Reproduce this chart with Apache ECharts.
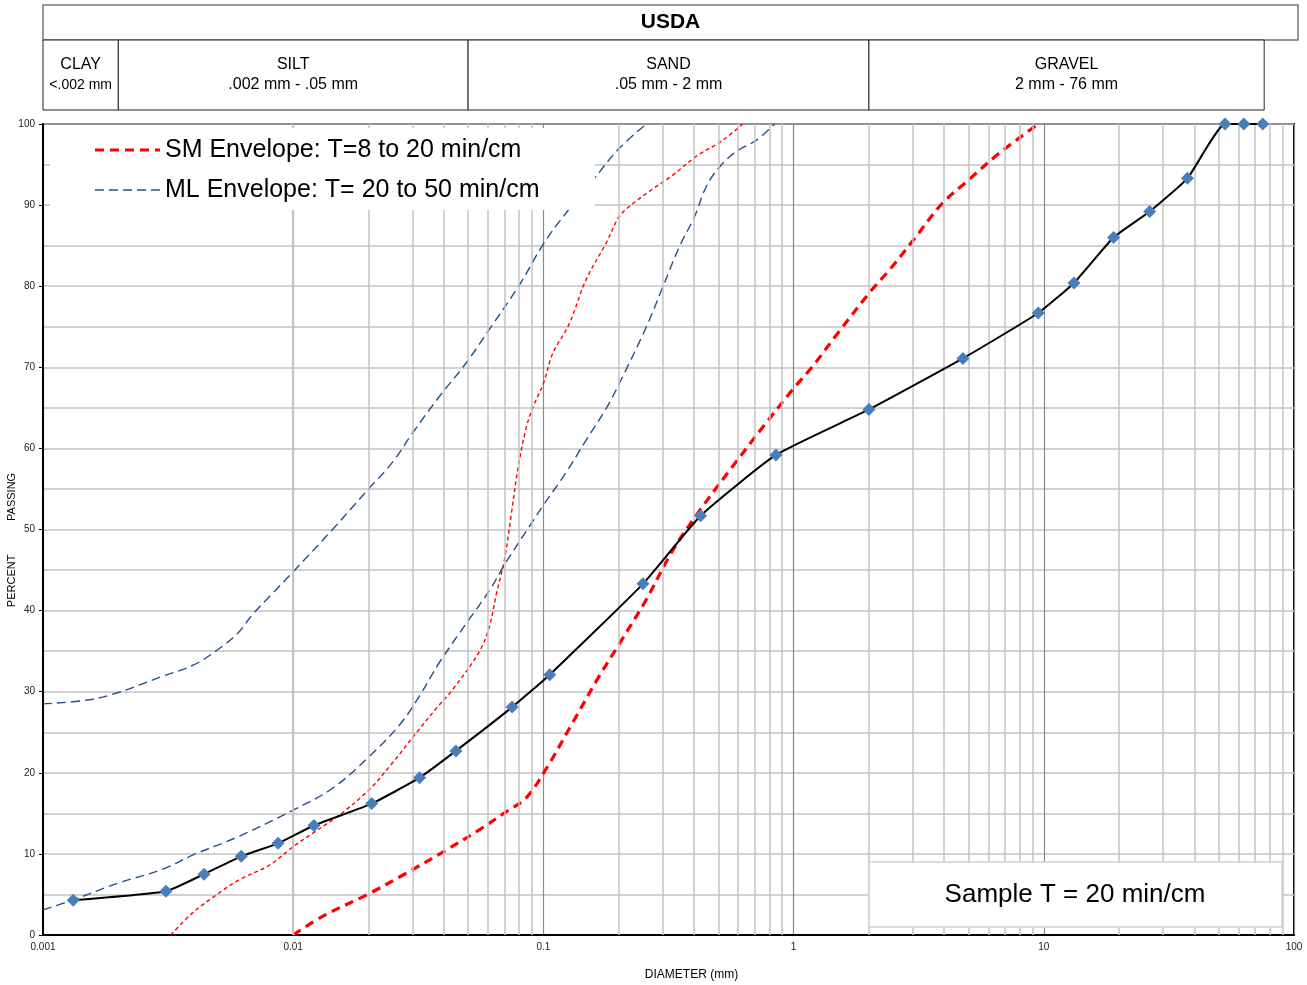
<!DOCTYPE html>
<html>
<head>
<meta charset="utf-8">
<title>USDA gradation</title>
<script src="https://cdn.jsdelivr.net/npm/echarts@6/dist/echarts.min.js"></script>
<style>
html,body{margin:0;padding:0;background:#fff;}
#main{width:1307px;height:985px;}
</style>
</head>
<body>
<div id="main"></div>
<script>
// sample gradation: diameter (mm) / percent passing
var sampleDiameter = [0.00132, 0.0031, 0.0044, 0.0062, 0.0087, 0.0121, 0.0206, 0.032, 0.0447, 0.075, 0.106, 0.25, 0.425, 0.85, 2.0, 4.75, 9.5, 13.2, 19.0, 26.5, 37.5, 53, 63, 75];
var samplePassing  = [4.3, 5.4, 7.5, 9.7, 11.3, 13.5, 16.2, 19.4, 22.7, 28.1, 32.1, 43.3, 51.7, 59.2, 64.8, 71.1, 76.7, 80.4, 86.0, 89.2, 93.3, 100, 100, 100];

// SM envelope, coarse side (thick red dash)
var smLowDiameter = [0.01, 0.0131, 0.0201, 0.0275, 0.0395, 0.055, 0.071, 0.0853, 0.1026, 0.131, 0.167, 0.201, 0.256, 0.327, 0.418, 0.568, 0.77, 1.0, 1.19, 1.51, 2.01, 2.43, 3.03, 3.9, 4.96, 6.7, 9.5];
var smLowPassing  = [0, 2.3, 5.1, 7.4, 10.2, 12.9, 15.2, 16.9, 20.5, 26.2, 31.9, 35.9, 41.2, 47.3, 52.2, 57.7, 63.0, 67.4, 70.1, 74.3, 79.2, 82.1, 85.8, 90.1, 93.0, 96.5, 100];

// SM envelope, fine side (thin red dots)
var smUpDiameter = [0.00324, 0.00395, 0.00491, 0.00608, 0.00802, 0.01, 0.0119, 0.0153, 0.0201, 0.0249, 0.031, 0.0384, 0.0435, 0.0556, 0.0609, 0.0648, 0.07, 0.0743, 0.079, 0.0853, 0.0906, 0.1, 0.109, 0.127, 0.148, 0.178, 0.201, 0.224, 0.265, 0.329, 0.408, 0.521, 0.627];
var smUpPassing  = [0, 2.7, 4.9, 6.8, 8.6, 10.9, 12.5, 14.8, 17.9, 21.2, 24.9, 28.4, 30.3, 35.0, 38.1, 42.0, 46.4, 51.7, 57.4, 62.5, 65.0, 68.0, 71.7, 75.4, 80.8, 85.3, 88.6, 90.0, 91.7, 93.7, 96.0, 98.0, 100];

// ML envelope, fine side
var mlUpDiameter = [0.001, 0.00153, 0.002, 0.00242, 0.003, 0.004, 0.005, 0.006, 0.00687, 0.00826, 0.01, 0.01436, 0.02, 0.0251, 0.03, 0.0384, 0.049, 0.0612, 0.0807, 0.1, 0.123, 0.158, 0.201, 0.258];
var mlUpPassing  = [28.5, 29.0, 29.9, 30.8, 31.9, 33.3, 35.2, 37.2, 39.5, 42.1, 44.8, 50.0, 55.0, 58.4, 61.9, 66.4, 70.5, 74.8, 80.3, 85.2, 89.0, 93.1, 97.0, 100];

// ML envelope, coarse side
var mlLowDiameter = [0.001, 0.00131, 0.002, 0.003, 0.004, 0.006, 0.01, 0.01436, 0.0201, 0.0266, 0.032, 0.0384, 0.0507, 0.0609, 0.071, 0.088, 0.1, 0.123, 0.148, 0.178, 0.201, 0.258, 0.3, 0.35, 0.402, 0.448, 0.506, 0.59, 0.71, 0.84];
var mlLowPassing  = [3.1, 4.3, 6.4, 8.1, 9.9, 12.1, 15.4, 18.1, 22.0, 25.9, 29.5, 33.6, 39.0, 42.5, 46.0, 50.4, 53.0, 57.0, 61.0, 64.9, 68.0, 75.0, 79.9, 84.9, 88.6, 92.3, 94.7, 96.6, 98.0, 100];

var xTickLabels = ['0.001', '0.01', '0.1', '1', '10', '100'];
var soilClassNames  = ['CLAY', 'SILT', 'SAND', 'GRAVEL'];
var soilClassRanges = ['<.002 mm', '.002 mm - .05 mm', '.05 mm - 2 mm', '2 mm - 76 mm'];
var soilClassBounds = [0.001, 0.002, 0.05, 2, 76];

var SM_NAME = 'SM Envelope: T=8 to 20 min/cm';
var ML_NAME = 'ML Envelope: T= 20 to 50 min/cm';
var FONT = 'Liberation Sans, Arial, sans-serif';
var SM_COLOR = '#ff0000', ML_COLOR = '#24508a';

function pairs(xs, ys){
	var out = [];
	for(var i = 0; i < xs.length; i++){
		out.push([xs[i], ys[i]]);
	}
	return out;
}

// log minor gridlines 2..9 of each decade
var minorGrid = [];
for(var d = 0.001; d < 50; d *= 10){
	for(var k = 2; k <= 9; k++){
		minorGrid.push({xAxis: +(k * d).toPrecision(3)});
	}
}

var chart = echarts.init(document.getElementById('main'));

var option = {
	animation: false,
	backgroundColor: '#fff',
	textStyle: {fontFamily: FONT},
	grid: {
		left: 43, right: 13, top: 124, bottom: 50,
		containLabel: false, outerBoundsMode: 'none',
		show: true, borderColor: '#000', borderWidth: 2
	},
	xAxis: {
		type: 'log', logBase: 10, min: 0.001, max: 100,
		name: 'DIAMETER (mm)', nameLocation: 'middle', nameGap: 34,
		nameTextStyle: {fontSize: 12, color: '#000', padding: [0, 0, 0, 46]},
		axisLine: {lineStyle: {color: '#000', width: 2}},
		axisTick: {show: false},
		axisLabel: {
			fontSize: 10, color: '#222', margin: 7,
			formatter: function(v){
				var i = Math.round(Math.log(v) / Math.LN10) + 3;
				return xTickLabels[i] || '';
			}
		},
		splitLine: {show: true, lineStyle: {color: '#8a8a8a', width: 1.2}}
	},
	yAxis: {
		type: 'value', min: 0, max: 100, interval: 10,
		axisLine: {show: true, lineStyle: {color: '#000', width: 2}},
		axisTick: {show: true, length: 4, lineStyle: {color: '#000'}},
		axisLabel: {fontSize: 10, color: '#222', margin: 8},
		splitLine: {lineStyle: {color: '#c3c3c3', width: 1.5}},
		minorTick: {show: false, splitNumber: 2},
		minorSplitLine: {show: true, lineStyle: {color: '#c3c3c3', width: 1.5}}
	},
	series: [
		{
			// minor gridlines
			type: 'line', data: [], z: 1, silent: true,
			markLine: {
				silent: true, symbol: ['none', 'none'], animation: false,
				label: {show: false},
				lineStyle: {color: '#c3c3c3', width: 1.5, type: 'solid'},
				data: minorGrid
			}
		},
		{
			name: SM_NAME, type: 'line', z: 3,
			data: pairs(smLowDiameter, smLowPassing),
			symbol: 'none', smooth: 0.35,
			lineStyle: {color: SM_COLOR, width: 3.2, type: [9, 6]}
		},
		{
			name: SM_NAME, type: 'line', z: 3,
			data: pairs(smUpDiameter, smUpPassing),
			symbol: 'none', smooth: 0.35,
			lineStyle: {color: SM_COLOR, width: 1.4, type: [4, 3]}
		},
		{
			name: ML_NAME, type: 'line', z: 3,
			data: pairs(mlUpDiameter, mlUpPassing),
			symbol: 'none', smooth: 0.4,
			lineStyle: {color: ML_COLOR, width: 1.4, type: [9, 5]}
		},
		{
			name: ML_NAME, type: 'line', z: 3,
			data: pairs(mlLowDiameter, mlLowPassing),
			symbol: 'none', smooth: 0.4,
			lineStyle: {color: ML_COLOR, width: 1.4, type: [9, 5]}
		},
		{
			name: 'Sample', type: 'line', z: 5,
			data: pairs(sampleDiameter, samplePassing),
			symbol: 'diamond', symbolSize: 13, smooth: 0.15,
			lineStyle: {color: '#000', width: 2},
			itemStyle: {color: '#4a7ebb'}
		}
	]
};
chart.setOption(option);

// 表头、图例、注释
function drawExtras(){
	var g = [];
	var xl = chart.convertToPixel({xAxisIndex: 0}, 0.001);
	var xr = chart.convertToPixel({xAxisIndex: 0}, 100) + 4;
	g.push({type: 'rect', shape: {x: xl, y: 5, width: xr - xl, height: 35},
		style: {fill: '#fff', stroke: '#777', lineWidth: 1.5}});
	g.push({type: 'text', x: (xl + xr) / 2, y: 22,
		style: {text: 'USDA', fontSize: 21, fontWeight: 'bold', fontFamily: FONT, fill: '#000', align: 'center', verticalAlign: 'middle'}});
	for(var i = 0; i < soilClassNames.length; i++){
		var a = chart.convertToPixel({xAxisIndex: 0}, soilClassBounds[i]);
		var b = chart.convertToPixel({xAxisIndex: 0}, soilClassBounds[i + 1]);
		g.push({type: 'rect', shape: {x: a, y: 40, width: b - a, height: 70},
			style: {fill: '#fff', stroke: '#222', lineWidth: 1}});
		g.push({type: 'text', x: (a + b) / 2, y: 65,
			style: {text: soilClassNames[i], fontSize: 16, fontFamily: FONT, fill: '#000', align: 'center', verticalAlign: 'middle'}});
		g.push({type: 'text', x: (a + b) / 2, y: 85,
			style: {text: soilClassRanges[i], fontSize: i == 0 ? 14 : 16, fontFamily: FONT, fill: '#000', align: 'center', verticalAlign: 'middle'}});
	}
	// 图例 (white box over the plot)
	g.push({type: 'rect', z: 50, shape: {x: 50, y: 128, width: 545, height: 82},
		style: {fill: '#fff'}});
	g.push({type: 'line', z: 51, shape: {x1: 95, y1: 150, x2: 160, y2: 150},
		style: {stroke: SM_COLOR, lineWidth: 3.2, lineDash: [9, 6]}});
	g.push({type: 'text', z: 51, x: 165, y: 150,
		style: {text: SM_NAME, fontSize: 25, fontFamily: FONT, fill: '#000', align: 'left', verticalAlign: 'middle'}});
	g.push({type: 'line', z: 51, shape: {x1: 95, y1: 190, x2: 160, y2: 190},
		style: {stroke: ML_COLOR, lineWidth: 1.4, lineDash: [9, 5]}});
	g.push({type: 'text', z: 51, x: 165, y: 190,
		style: {text: ML_NAME, fontSize: 25, fontFamily: FONT, fill: '#000', align: 'left', verticalAlign: 'middle'}});
	// y axis name
	g.push({type: 'text', x: 12, y: 540, rotation: Math.PI / 2,
		style: {text: 'PERCENT           PASSING', fontSize: 11, fontFamily: FONT, fill: '#000', align: 'center', verticalAlign: 'middle'}});
	// Sample T 注释框
	g.push({type: 'rect', z: 50, shape: {x: 869, y: 862, width: 413, height: 65},
		style: {fill: '#fff', stroke: '#d0d0d0', lineWidth: 1.5}});
	g.push({type: 'text', z: 51, x: 1075, y: 895,
		style: {text: 'Sample T = 20 min/cm', fontSize: 26, fontFamily: FONT, fill: '#000', align: 'center', verticalAlign: 'middle'}});
	chart.setOption({graphic: g});
}
drawExtras();
</script>
</body>
</html>
